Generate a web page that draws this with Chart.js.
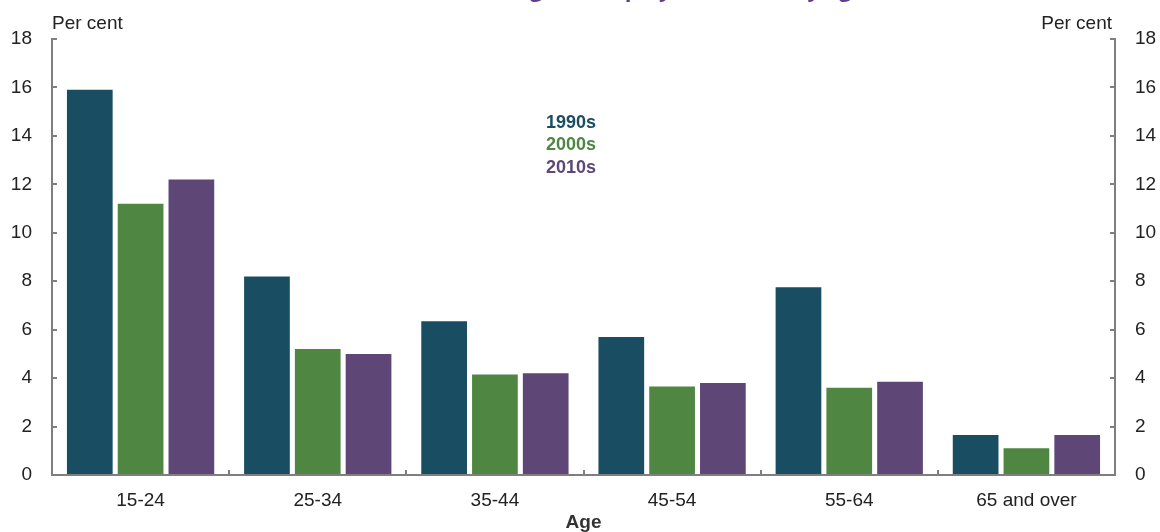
<!DOCTYPE html>
<html>
<head>
<meta charset="utf-8">
<script src="https://cdn.jsdelivr.net/npm/chart.js@4"></script>
<style>
  body { margin: 0; background: #fff; }
  #wrap { position: relative; width: 1160px; height: 532px; overflow: hidden; }
  #titulo {
    position: absolute; left: 466px; top: -23px; white-space: nowrap;
    font: bold 22px "Open Sans", sans-serif; line-height: 22px; color: #633e8f;
  }
</style>
</head>
<body>
<div id="wrap">
  <div id="titulo">Average unemployment rate, by age</div>
  <canvas id="grafico" width="1160" height="532"></canvas>
</div>
<script>
// Faixas etárias
const categorias = ['15-24', '25-34', '35-44', '45-54', '55-64', '65 and over'];

// Taxa média de desemprego por década (%)
const anos1990 = [15.9, 8.2, 6.35, 5.7, 7.75, 1.65];
const anos2000 = [11.2, 5.2, 4.15, 3.65, 3.6, 1.1];
const anos2010 = [12.2, 5.0, 4.2, 3.8, 3.85, 1.65];

const rotulosSeries = ['1990s', '2000s', '2010s'];
const coresSeries = ['#194d62', '#4e8642', '#5e4677'];

// Marcas do eixo y
const marcasY = [0, 2, 4, 6, 8, 10, 12, 14, 16, 18];

const fonte = 'Liberation Sans, Arial, sans-serif';
const cinza = '#7f7f7f';

// Texto "Per cent" e legenda dentro do gráfico
const textosExtras = {
    id: 'textosExtras',
    afterDraw(chart) {
        const ctx = chart.ctx;
        const area = chart.chartArea;
        ctx.save();
        ctx.textBaseline = 'middle';
        ctx.fillStyle = '#222';
        ctx.font = '19px ' + fonte;
        ctx.textAlign = 'left';
        ctx.fillText('Per cent', area.left, 24);
        ctx.textAlign = 'right';
        ctx.fillText('Per cent', area.right - 3, 24);

        ctx.font = 'bold 18px ' + fonte;
        ctx.textAlign = 'center';
        chart.data.datasets.forEach((ds, i) => {
            ctx.fillStyle = ds.backgroundColor;
            ctx.fillText(ds.label, area.left + 519, area.top + 84 + i * 22.5);
        });
        ctx.restore();
    }
};

function eixoY(posicao) {
    return {
        type: 'linear',
        position: posicao,
        min: 0,
        max: 18,
        afterBuildTicks: (escala) => { escala.ticks = marcasY.map(v => ({ value: v })); },
        afterFit: (escala) => { escala.width = posicao === 'left' ? 52 : 45; },
        grid: { drawOnChartArea: false, color: cinza, tickLength: -5, lineWidth: 2 },
        border: { display: true, color: cinza, width: 2 },
        ticks: { color: '#222', font: { family: fonte, size: 19 }, padding: 25 }
    };
}

const grafico = new Chart(document.getElementById('grafico').getContext('2d'), {
    type: 'bar',
    data: {
        labels: categorias,
        datasets: [
            { label: rotulosSeries[0], data: anos1990, backgroundColor: coresSeries[0] },
            { label: rotulosSeries[1], data: anos2000, backgroundColor: coresSeries[1] },
            { label: rotulosSeries[2], data: anos2010, backgroundColor: coresSeries[2] }
        ]
    },
    options: {
        responsive: false,
        animation: false,
        layout: { padding: { top: 39, left: 0, right: 0, bottom: 0 } },
        datasets: { bar: { categoryPercentage: 0.86, barPercentage: 0.9, borderWidth: 0 } },
        plugins: { legend: { display: false }, tooltip: { enabled: false }, title: { display: false } },
        scales: {
            x: {
                afterFit: (escala) => { escala.height = 57; },
                grid: { drawOnChartArea: false, color: cinza, tickLength: -5, lineWidth: 2, offset: true },
                border: { display: true, color: cinza, width: 2 },
                ticks: { color: '#222', font: { family: fonte, size: 19 }, padding: 19, maxRotation: 0 },
                title: {
                    display: true, text: 'Age', color: '#333',
                    font: { family: fonte, size: 19, weight: 'bold', lineHeight: 1 },
                    padding: { top: 0, bottom: 0 }
                }
            },
            y: eixoY('left'),
            y2: eixoY('right')
        }
    },
    plugins: [textosExtras]
});
</script>
</body>
</html>
